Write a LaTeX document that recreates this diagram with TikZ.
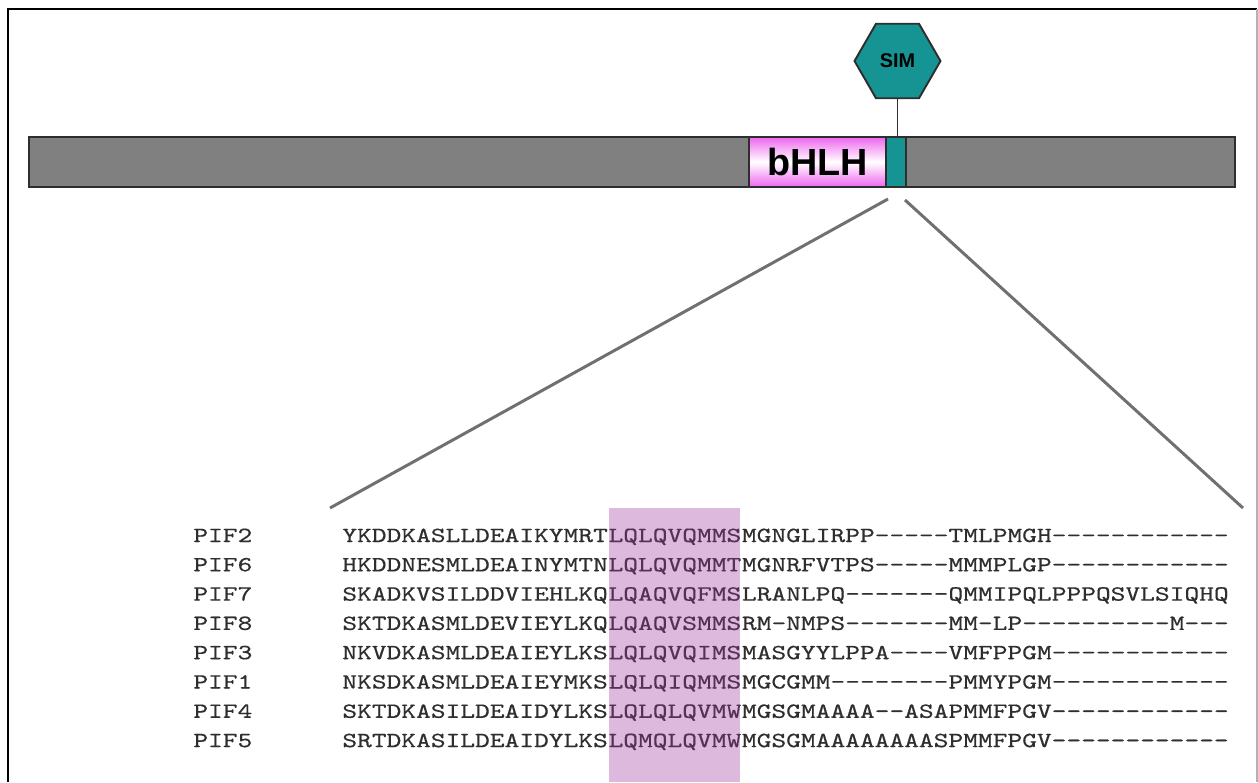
\documentclass[tikz,border=0pt]{standalone}
\usepackage{fontspec}
\usetikzlibrary{shapes.geometric}
\newfontfamily\headfont{Liberation Sans}
\newfontfamily\seqfont[FakeStretch=1.3,FakeBold=0.5,Ligatures=TeXOff]{lmmono10-regular.otf}
\definecolor{bargray}{HTML}{808080}
\definecolor{edgegray}{HTML}{2E2E2E}
\definecolor{zoomgray}{HTML}{707070}
\definecolor{simteal}{HTML}{169494}
\definecolor{bhlhpink}{HTML}{EE66EE}
\definecolor{motifbg}{HTML}{DDBADD}
\definecolor{motiftext}{HTML}{573057}
\definecolor{seqgray}{HTML}{2E2E2E}

\begin{document}
\begin{tikzpicture}[x=0.02cm, y=-0.02cm,
    domainbox/.style={draw=edgegray, line width=1.1pt, minimum height=1cm, inner sep=0pt},
    zoomline/.style={zoomgray, line width=1.7pt},
    seqtext/.style={anchor=base west, inner sep=0pt, text=seqgray,
      font={\seqfont\fontsize{12.3}{14}\selectfont}}]
  \useasboundingbox (0,0) rectangle (1258,782);
  % frame
  \draw[black, line width=1.1pt] (8,782) -- (8,9) -- (1257,9);
  \draw[gray!60, line width=0.6pt] (1257,9) -- (1257,782);

  % protein bar
  \node[domainbox, fill=bargray, minimum width=24.12cm] (bar) at (632,162) {};
  \node[domainbox, top color=bhlhpink, bottom color=bhlhpink, middle color=white,
    minimum width=2.74cm, font={\headfont\bfseries\fontsize{21.5}{22}\selectfont}] (bhlh) at (817.5,162) {bHLH};
  \node[domainbox, fill=simteal, minimum width=0.4cm] (simbox) at (896,162) {};
  \node[regular polygon, regular polygon sides=6, draw=edgegray, line width=1.1pt, fill=simteal,
    minimum size=1.72cm, inner sep=0pt, font={\headfont\bfseries\fontsize{11.3}{12}\selectfont}] (sim) at (897.5,61) {SIM};
  \draw[edgegray, line width=1pt] (sim.south) -- (sim.south |- simbox.north);

  % zoom lines
  \coordinate (zoomLtop) at (888,199);
  \coordinate (zoomRtop) at (905,200);
  \coordinate (zoomL) at (330,508);
  \coordinate (zoomR) at (1243,508);
  \draw[zoomline] (zoomLtop) -- (zoomL);
  \draw[zoomline] (zoomRtop) -- (zoomR);

  % alignment
  \fill[motifbg] (609,508) rectangle (740,782);
  \foreach \pname/\pre/\mot/\post [count=\i from 0] in {
      PIF2/YKDDKASLLDEAIKYMRT/LQLQVQMMS/MGNGLIRPP-----TMLPMGH------------,
      PIF6/HKDDNESMLDEAINYMTN/LQLQVQMMT/MGNRFVTPS-----MMMPLGP------------,
      PIF7/SKADKVSILDDVIEHLKQ/LQAQVQFMS/LRANLPQ-------QMMIPQLPPPQSVLSIQHQ,
      PIF8/SKTDKASMLDEVIEYLKQ/LQAQVSMMS/RM-NMPS-------MM-LP----------M---,
      PIF3/NKVDKASMLDEAIEYLKS/LQLQVQIMS/MASGYYLPPA----VMFPPGM------------,
      PIF1/NKSDKASMLDEAIEYMKS/LQLQIQMMS/MGCGMM--------PMMYPGM------------,
      PIF4/SKTDKASILDEAIDYLKS/LQLQLQVMW/MGSGMAAAA--ASAPMMFPGV------------,
      PIF5/SRTDKASILDEAIDYLKS/LQMQLQVMW/MGSGMAAAAAAAASPMMFPGV------------}{
    \node[seqtext] (name\i) at (193,542+29.3*\i) {\pname};
    \node[seqtext] (pre\i) at (342,542+29.3*\i) {\pre};
    \node[seqtext, text=motiftext] (mot\i) at (pre\i.base east) {\mot};
    \node[seqtext] (post\i) at (mot\i.base east) {\post};
  }
\end{tikzpicture}
\end{document}
